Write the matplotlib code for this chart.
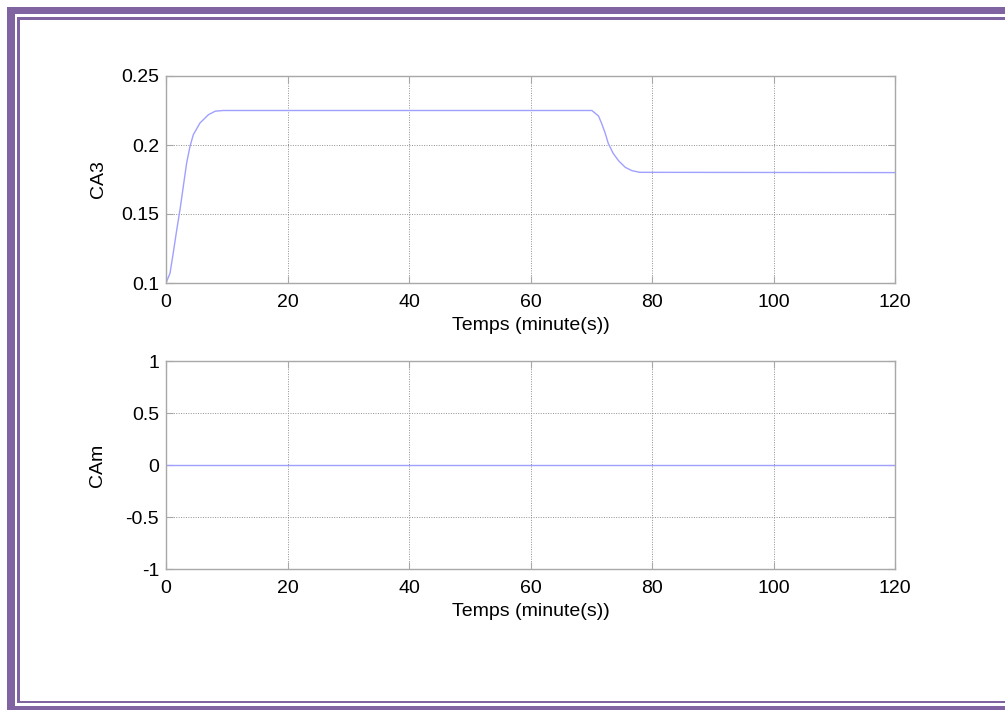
import matplotlib
matplotlib.use("Agg")
import matplotlib.pyplot as plt
from matplotlib.patches import Rectangle

plt.rcParams['font.family'] = ['Liberation Sans', 'DejaVu Sans']

# data
t_ca3 = [0, 0.66, 1.2, 1.75, 2.3, 2.85, 3.4, 3.95, 4.5, 5.6, 7.0, 8.1, 9.4,
         70.1, 71.2, 71.7, 72.3, 72.8, 73.6, 74.5, 75.6, 76.7, 78.0, 120]
ca3 = [0.100, 0.107, 0.122, 0.138, 0.153, 0.170, 0.187, 0.199, 0.2075, 0.216,
       0.222, 0.2245, 0.225, 0.225, 0.221, 0.2157, 0.2085, 0.2012, 0.194,
       0.1886, 0.1838, 0.1814, 0.1802, 0.180]
t_cam = [0, 120]
cam = [0, 0]

xticks = [0, 20, 40, 60, 80, 100, 120]
yticks_top = [0.1, 0.15, 0.2, 0.25]
yticks_bot = [-1, -0.5, 0, 0.5, 1]

W, H = 1005, 710
fig = plt.figure(figsize=(W / 100, H / 100), dpi=100)

line_col = '#a0a0ff'
spine_col = '#a8a8a8'
fs = 14

def style(ax):
    for s in ax.spines.values():
        s.set_color(spine_col)
        s.set_linewidth(1.0)
    ax.tick_params(direction='in', length=5, color=spine_col, labelsize=fs,
                   top=True, right=True, pad=5)
    ax.tick_params(axis='x', pad=8)
    ax.grid(True, linestyle=(0, (1, 1.5)), color='#909090', linewidth=0.7)
    ax.set_xlim(0, 120)
    ax.set_xticks(xticks)
    ax.set_xticklabels([str(v) for v in xticks])
    ax.set_xlabel('Temps (minute(s))', fontsize=fs, labelpad=4)

ax1 = fig.add_axes([166 / W, 1 - 283 / H, 729 / W, 207 / H])
ax1.plot(t_ca3, ca3, color=line_col, linewidth=1.0)
ax1.set_ylim(0.1, 0.25)
ax1.set_yticks(yticks_top)
ax1.set_yticklabels(['0.1', '0.15', '0.2', '0.25'])
ax1.set_ylabel('CA3', fontsize=fs, labelpad=10)
style(ax1)

ax2 = fig.add_axes([166 / W, 1 - 569 / H, 729 / W, 208 / H])
ax2.plot(t_cam, cam, color=line_col, linewidth=1.0)
ax2.set_ylim(-1, 1)
ax2.set_yticks(yticks_bot)
ax2.set_yticklabels(['-1', '-0.5', '0', '0.5', '1'])
ax2.set_ylabel('CAm', fontsize=fs, labelpad=14)
style(ax2)

# purple double frame
purple = '#8064a2'
def band(x0, y0, x1, y1):
    fig.add_artist(Rectangle((x0 / W, 1 - y1 / H), (x1 - x0) / W, (y1 - y0) / H,
                             transform=fig.transFigure, color=purple, lw=0))

band(7, 7, W, 14)       # outer top
band(7, 7, 15, 710)     # outer left
band(7, 706, W, 710)    # outer bottom
band(17, 17, W, 20)     # inner top
band(17, 17, 20, 703)   # inner left
band(17, 701, W, 703)   # inner bottom

fig.savefig('out.png', dpi=100)
